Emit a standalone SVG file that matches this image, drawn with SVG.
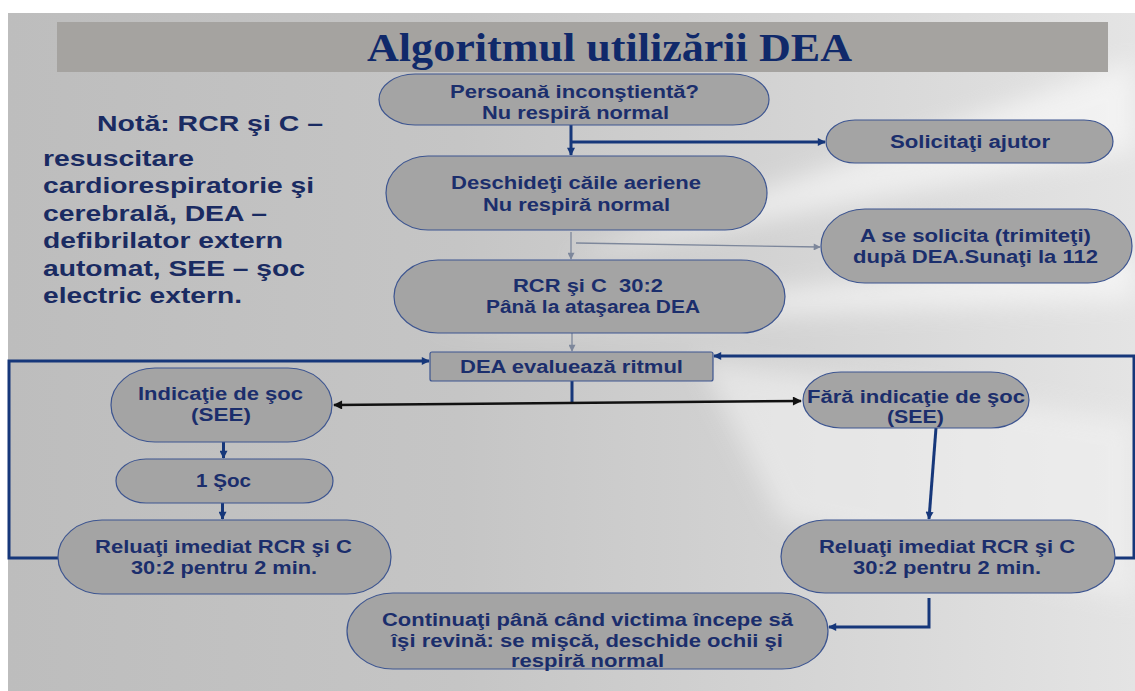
<svg xmlns="http://www.w3.org/2000/svg" width="1135" height="691" viewBox="0 0 1135 691">
<defs>
<linearGradient id="bg" x1="0" y1="0" x2="1" y2="0">
<stop offset="0" stop-color="#bdbdbd"/>
<stop offset="0.4" stop-color="#c5c5c5"/>
<stop offset="0.7" stop-color="#d4d4d4"/>
<stop offset="1" stop-color="#e4e4e4"/>
</linearGradient>
<filter id="blur" x="-20%" y="-20%" width="140%" height="140%"><feGaussianBlur stdDeviation="12"/></filter>
<marker id="an" viewBox="0 0 10 10" refX="9" refY="5" markerWidth="9" markerHeight="8" markerUnits="userSpaceOnUse" orient="auto"><path d="M0,0 L10,5 L0,10 z" fill="#16377a"/></marker>
<marker id="ag" viewBox="0 0 10 10" refX="9" refY="5" markerWidth="8" markerHeight="7" markerUnits="userSpaceOnUse" orient="auto"><path d="M0,0 L10,5 L0,10 z" fill="#7d879b"/></marker>
<marker id="ak" viewBox="0 0 10 10" refX="9" refY="5" markerWidth="11" markerHeight="9" markerUnits="userSpaceOnUse" orient="auto-start-reverse"><path d="M0,0 L10,5 L0,10 z" fill="#111111"/></marker>
</defs>
<style>
.node{fill:#a4a4a4;stroke:#3d5590;stroke-width:1.2}
.t{font-family:"Liberation Sans",Arial,sans-serif;font-weight:bold;font-size:17.5px;fill:#1b2e6c;white-space:pre}
.note{font-family:"Liberation Sans",Arial,sans-serif;font-weight:bold;font-size:22px;fill:#1a2b62}
.title{font-family:"Liberation Serif","Times New Roman",serif;font-weight:bold;font-size:40px;fill:#10296a}
.cn{fill:none;stroke:#16377a;stroke-width:3}
.cg{fill:none;stroke:#7d879b;stroke-width:1.3}
.ck{fill:none;stroke:#111111;stroke-width:2.5}
</style>
<rect x="0" y="0" width="1135" height="691" fill="#ffffff"/>
<rect x="8" y="13" width="1127" height="678" fill="url(#bg)"/>
<g opacity="0.55" filter="url(#blur)">
<polygon points="1135,60 560,260 1135,150" fill="#ffffff"/>
<polygon points="1135,250 420,330 1135,300" fill="#ffffff"/>
<polygon points="700,360 1135,420 1135,600 780,520" fill="#f4f4f4"/>
</g>
<g id="title">
<rect x="57" y="22" width="1051" height="50" fill="#a5a3a0"/>
<text class="title" x="367" y="61" textLength="485" lengthAdjust="spacingAndGlyphs">Algoritmul utilizării DEA</text>
</g>
<g id="note">
<text class="note" x="97" y="131" textLength="226" lengthAdjust="spacingAndGlyphs">Notă: RCR şi C –</text>
<text class="note" x="43" y="166" textLength="151" lengthAdjust="spacingAndGlyphs">resuscitare</text>
<text class="note" x="43" y="193" textLength="271" lengthAdjust="spacingAndGlyphs">cardiorespiratorie şi</text>
<text class="note" x="43" y="221" textLength="224" lengthAdjust="spacingAndGlyphs">cerebrală, DEA –</text>
<text class="note" x="43" y="248" textLength="240" lengthAdjust="spacingAndGlyphs">defibrilator extern</text>
<text class="note" x="43" y="276" textLength="262" lengthAdjust="spacingAndGlyphs">automat, SEE – şoc</text>
<text class="note" x="43" y="303" textLength="199" lengthAdjust="spacingAndGlyphs">electric extern.</text>
</g>
<g id="connectors">
<path class="cn" d="M571,125 V155" marker-end="url(#an)"/>
<path class="cn" d="M571,142 H825" marker-end="url(#an)"/>
<path class="cg" d="M571,232 V259" marker-end="url(#ag)"/>
<path class="cg" d="M576,243 L820,247" marker-end="url(#ag)"/>
<path class="cg" d="M572,333 V351" marker-end="url(#ag)"/>
<path class="cn" d="M572,381 V403"/>
<path class="ck" d="M334,405 L801,401" marker-start="url(#ak)" marker-end="url(#ak)"/>
<path class="cn" d="M223.5,442 V458" marker-end="url(#an)"/>
<path class="cn" d="M222.5,503 V519" marker-end="url(#an)"/>
<path class="cn" d="M58,558 H9 V361 H429" marker-end="url(#an)"/>
<path class="cn" d="M1115,558 H1134 V356 H714" marker-end="url(#an)"/>
<path class="cn" d="M936,428 L929,519" marker-end="url(#an)"/>
<path class="cn" d="M929,598 V627 H829" marker-end="url(#an)"/>
</g>
<g id="n1">
<rect class="node" x="379" y="74" width="390" height="51" rx="36" ry="25.5"/>
<text class="t" x="450" y="98" textLength="249" lengthAdjust="spacingAndGlyphs">Persoană inconştientă?</text>
<text class="t" x="482" y="119" textLength="187" lengthAdjust="spacingAndGlyphs">Nu respiră normal</text>
</g>
<g id="n2">
<rect class="node" x="826" y="120" width="287" height="43" rx="29" ry="21.5"/>
<text class="t" x="890" y="148" textLength="160" lengthAdjust="spacingAndGlyphs">Solicitaţi ajutor</text>
</g>
<g id="n3">
<rect class="node" x="386" y="156" width="381" height="74" rx="42" ry="37"/>
<text class="t" x="451" y="189" textLength="250" lengthAdjust="spacingAndGlyphs">Deschideţi căile aeriene</text>
<text class="t" x="483" y="211" textLength="187" lengthAdjust="spacingAndGlyphs">Nu respiră normal</text>
</g>
<g id="n4">
<rect class="node" x="821" y="209" width="311" height="74" rx="44" ry="37"/>
<text class="t" x="860" y="242" textLength="231" lengthAdjust="spacingAndGlyphs">A se solicita (trimiteţi)</text>
<text class="t" x="853" y="263" textLength="245" lengthAdjust="spacingAndGlyphs">după DEA.Sunaţi la 112</text>
</g>
<g id="n5">
<rect class="node" x="394" y="260" width="391" height="73" rx="44" ry="36.5"/>
<text class="t" x="513" y="292" textLength="150" lengthAdjust="spacingAndGlyphs" xml:space="preserve">RCR şi C  30:2</text>
<text class="t" x="486" y="313" textLength="214" lengthAdjust="spacingAndGlyphs">Până la ataşarea DEA</text>
</g>
<g id="n6">
<rect class="node" x="430" y="352" width="283" height="29" rx="2" ry="2"/>
<text class="t" x="460" y="373" textLength="223" lengthAdjust="spacingAndGlyphs">DEA evaluează ritmul</text>
</g>
<g id="n7">
<rect class="node" x="111" y="368" width="221" height="74" rx="44" ry="37"/>
<text class="t" x="138" y="400" textLength="165" lengthAdjust="spacingAndGlyphs">Indicaţie de şoc</text>
<text class="t" x="191" y="421" textLength="60" lengthAdjust="spacingAndGlyphs">(SEE)</text>
</g>
<g id="n8">
<rect class="node" x="803" y="372" width="226" height="56" rx="38" ry="28"/>
<text class="t" x="807" y="403" textLength="218" lengthAdjust="spacingAndGlyphs">Fără indicaţie de şoc</text>
<text class="t" x="887" y="423" textLength="57" lengthAdjust="spacingAndGlyphs">(SEE)</text>
</g>
<g id="n9">
<rect class="node" x="116" y="459" width="217" height="44" rx="30" ry="22"/>
<text class="t" x="196" y="487" textLength="55" lengthAdjust="spacingAndGlyphs">1 Şoc</text>
</g>
<g id="n10">
<rect class="node" x="58" y="520" width="333" height="74" rx="44" ry="37"/>
<text class="t" x="95" y="553" textLength="257" lengthAdjust="spacingAndGlyphs">Reluaţi imediat RCR şi C</text>
<text class="t" x="131" y="574" textLength="186" lengthAdjust="spacingAndGlyphs">30:2 pentru 2 min.</text>
</g>
<g id="n11">
<rect class="node" x="781" y="520" width="334" height="73" rx="44" ry="36.5"/>
<text class="t" x="819" y="553" textLength="256" lengthAdjust="spacingAndGlyphs">Reluaţi imediat RCR şi C</text>
<text class="t" x="853" y="574" textLength="188" lengthAdjust="spacingAndGlyphs">30:2 pentru 2 min.</text>
</g>
<g id="n12">
<rect class="node" x="347" y="593" width="481" height="76" rx="46" ry="38"/>
<text class="t" x="382" y="626" textLength="411" lengthAdjust="spacingAndGlyphs">Continuaţi până când victima începe să</text>
<text class="t" x="391" y="647" textLength="392" lengthAdjust="spacingAndGlyphs">îşi revină: se mişcă, deschide ochii şi</text>
<text class="t" x="511" y="667" textLength="153" lengthAdjust="spacingAndGlyphs">respiră normal</text>
</g>
</svg>
